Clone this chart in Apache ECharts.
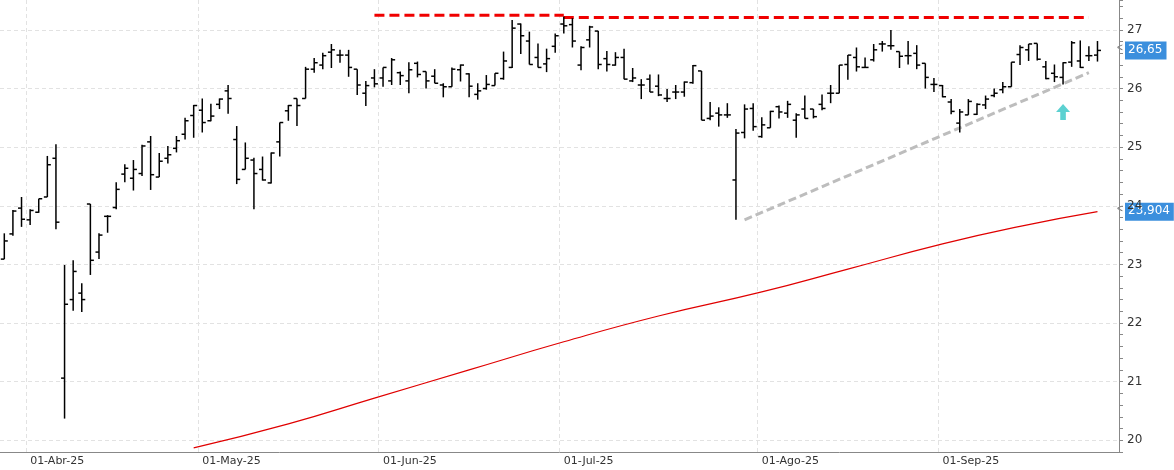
<!DOCTYPE html>
<html>
<head>
<meta charset="utf-8">
<script src="https://cdn.jsdelivr.net/npm/echarts@6/dist/echarts.min.js"></script>
<style>html,body{margin:0;padding:0;background:#fff}#main{width:1174px;height:470px}</style>
</head>
<body>
<div id="main"></div>
<script>
// barras OHLC (27-Mar-25 .. 25-Sep-25)
var abertura = [23.09,23.52,23.96,23.76,23.89,24.15,24.81,21.06,22.40,22.51,24.03,23.21,23.82,23.97,24.54,24.47,24.55,25.09,24.49,24.81,24.98,25.22,
25.54,25.63,25.45,25.73,25.96,25.13,24.62,24.78,24.62,24.39,25.09,25.62,25.83,25.83,26.33,26.40,26.62,26.57,26.57,26.33,25.92,26.18,26.18,26.13,26.27,26.13,26.43,26.29,26.21,
26.06,26.03,26.32,26.25,25.90,26.00,26.05,26.17,26.36,27.10,26.81,26.53,26.42,26.72,27.10,27.09,26.40,26.83,26.98,26.51,26.40,26.53,26.13,26.06,26.16,26.04,25.83,25.94,25.94,26.10,26.30,25.49,25.58,25.55,24.44,25.25,25.66,
25.18,25.33,25.69,25.58,25.46,25.65,25.65,25.73,25.92,25.92,26.41,26.53,26.36,26.49,26.76,26.73,26.63,26.56,26.60,26.43,26.07,26.05,25.77,25.41,25.55,25.56,25.72,25.88,25.98,26.03,26.58,26.66,26.77,26.37,26.26,26.19,26.45,26.47,26.56,26.57];
var maxima = [23.53,23.93,24.15,23.94,24.12,24.85,25.05,22.99,23.07,22.68,24.03,23.53,23.84,24.40,24.71,24.78,25.04,25.19,24.90,25.02,25.19,25.50,
25.72,25.83,25.74,25.83,26.06,25.36,25.08,24.82,24.84,24.91,25.42,25.72,25.83,26.37,26.52,26.61,26.76,26.66,26.66,26.33,26.13,26.33,26.36,26.52,26.29,26.45,26.46,26.29,26.33,
26.09,26.36,26.41,26.26,26.09,26.23,26.26,26.63,27.17,27.11,26.97,26.77,26.68,26.94,27.23,27.20,26.72,27.07,26.98,26.64,26.62,26.68,26.35,26.16,26.24,26.24,25.99,26.06,26.12,26.40,26.30,25.77,25.68,25.75,25.31,25.73,25.75,
25.51,25.62,25.71,25.79,25.58,25.88,25.65,25.90,26.06,26.40,26.57,26.70,26.53,26.76,26.81,27.00,26.63,26.81,26.74,26.43,26.18,26.06,25.82,25.65,25.82,25.75,25.88,26.00,26.11,26.45,26.74,26.76,26.77,26.47,26.41,26.45,26.81,26.82,26.72,26.81];
var minimas = [23.09,23.49,23.64,23.67,23.88,24.15,23.60,20.37,22.21,22.19,22.82,23.09,23.54,23.94,24.40,24.26,24.51,24.27,24.49,24.72,24.91,25.13,
25.16,25.25,25.44,25.65,25.57,24.37,24.62,23.94,24.43,24.38,24.84,25.45,25.36,25.83,26.27,26.33,26.35,26.44,26.20,25.89,25.70,26.02,26.03,26.06,26.06,25.92,26.19,26.00,26.09,
25.85,26.03,26.12,25.85,25.81,25.98,26.05,26.15,26.35,26.59,26.41,26.36,26.28,26.61,26.94,26.70,26.31,26.70,26.33,26.29,26.39,26.16,26.11,25.82,25.94,25.87,25.77,25.82,25.86,26.08,25.46,25.46,25.35,25.50,23.76,25.15,25.28,
25.16,25.33,25.49,25.50,25.16,25.49,25.49,25.63,25.75,25.92,26.15,26.29,26.35,26.46,26.63,26.66,26.35,26.41,26.33,26.00,25.94,25.85,25.56,25.25,25.55,25.55,25.65,25.85,25.92,26.03,26.40,26.47,26.48,26.16,26.11,26.07,26.37,26.35,26.47,26.46];
var fechamento = [23.40,23.91,23.77,23.92,24.12,24.70,23.72,22.32,22.88,22.40,23.07,23.50,23.82,24.28,24.64,24.62,25.02,24.53,24.76,24.87,25.11,25.45,
25.71,25.42,25.53,25.82,25.83,24.45,24.81,24.55,24.44,24.90,25.42,25.71,25.71,26.33,26.44,26.56,26.66,26.57,26.36,26.06,26.05,26.08,26.36,26.49,26.22,26.32,26.24,26.13,26.09,
26.03,26.33,26.40,26.04,25.96,26.07,26.26,26.47,27.03,26.90,26.41,26.36,26.51,26.90,27.07,26.81,26.70,27.05,26.41,26.41,26.53,26.16,26.18,26.06,25.94,25.89,25.83,25.94,26.11,26.39,25.46,25.53,25.55,25.55,25.24,25.65,25.35,
25.38,25.61,25.60,25.73,25.55,25.49,25.52,25.66,25.92,26.40,26.57,26.37,26.36,26.66,26.76,26.73,26.55,26.56,26.40,26.19,26.07,25.86,25.61,25.60,25.78,25.73,25.82,25.92,26.03,26.45,26.70,26.76,26.50,26.17,26.20,26.44,26.78,26.36,26.56,26.65];

// media movel (indice da barra, valor)
var media = [[22,19.87],[33,20.28],[43,20.72],[54,21.20],[65,21.68],[76,22.12],[88,22.53],[98,22.92],[109,23.35],[118,23.65],[127,23.90]];
// linhas desenhadas a mao
var resistencia1 = [[43,27.25],[65,27.25]];
var resistencia2 = [[65,27.21],[126,27.21]];
var tendencia = [[86,23.76],[126,26.27]];
var seta = [[123,25.60]];

var niveis = [20, 21, 22, 23, 24, 25, 26, 27];
var rotulosMes = {3:'01-Abr-25', 23:'01-May-25', 44:'01-Jun-25', 65:'01-Jul-25', 88:'01-Ago-25', 109:'01-Sep-25'};
var feriados = ['2025-04-18','2025-04-21','2025-05-01'];

// dias de pregao
var categorias = [];
var d = new Date(Date.UTC(2025, 2, 27));
while (categorias.length < abertura.length) {
	var s = d.toISOString().slice(0, 10);
	var dia = d.getUTCDay();
	if (dia != 0 && dia != 6 && feriados.indexOf(s) < 0) categorias.push(s);
	d.setUTCDate(d.getUTCDate() + 1);
}
categorias.push('', '');

var barras = abertura.map(function(o, i) { return [i, o, maxima[i], minimas[i], fechamento[i]]; });

function desenharBarra(params, api) {
	var x = api.value(0);
	var pO = api.coord([x, api.value(1)]);
	var pH = api.coord([x, api.value(2)]);
	var pL = api.coord([x, api.value(3)]);
	var pC = api.coord([x, api.value(4)]);
	var st = {stroke: '#000', lineWidth: 1.5};
	return {type: 'group', children: [
		{type: 'line', shape: {x1: pH[0], y1: pH[1], x2: pL[0], y2: pL[1]}, style: st},
		{type: 'line', shape: {x1: pO[0] - 3.5, y1: pO[1], x2: pO[0], y2: pO[1]}, style: st},
		{type: 'line', shape: {x1: pC[0], y1: pC[1], x2: pC[0] + 3.5, y2: pC[1]}, style: st}
	]};
}

function ehMes(i) { return rotulosMes[i] !== undefined; }

var myChart = echarts.init(document.getElementById('main'));
var option = {
	animation: false,
	grid: {left: 0, right: 55, top: 0, bottom: 18},
	xAxis: {
		type: 'category',
		data: categorias,
		boundaryGap: true,
		axisLine: {lineStyle: {color: '#888'}},
		axisTick: {alignWithLabel: true, interval: ehMes, length: 4, lineStyle: {color: '#888'}},
		axisLabel: {
			interval: ehMes,
			formatter: function(v, i) { return rotulosMes[i] || ''; },
			align: 'left', margin: 4, color: '#333', fontSize: 11, fontFamily: 'DejaVu Sans'
		},
		splitLine: {show: true, interval: ehMes, lineStyle: {color: '#e2e2e2', type: [4, 3]}}
	},
	yAxis: {
		type: 'value', position: 'right', min: 19.8, max: 27.51, interval: 0.2,
		axisLine: {show: true, lineStyle: {color: '#888'}},
		axisTick: {show: true, length: 4, lineStyle: {color: '#888'}},
		axisLabel: {color: '#333', fontSize: 12, fontFamily: 'DejaVu Sans', margin: 8,
			formatter: function(v) { return Math.abs(v - Math.round(v)) < 0.01 ? String(Math.round(v)) : ''; }},
		splitLine: {show: false}
	},
	series: [
		{type: 'line', data: [], z: 0,
			markLine: {silent: true, symbol: 'none', label: {show: false}, z: 0,
				lineStyle: {color: '#e2e2e2', type: [4, 3], width: 1},
				data: niveis.map(function(n) { return {yAxis: n}; })}},
		{type: 'line', data: media, symbol: 'none', smooth: true, lineStyle: {color: '#e00000', width: 1.2}, z: 2},
		{type: 'line', data: tendencia, symbol: 'none', lineStyle: {color: '#bdbdbd', width: 3, type: [8, 4]}, z: 2},
		{type: 'line', data: resistencia1, symbol: 'none', lineStyle: {color: '#f00000', width: 3, type: [10, 5]}, z: 3},
		{type: 'line', data: resistencia2, symbol: 'none', lineStyle: {color: '#f00000', width: 3, type: [10, 5]}, z: 3},
		{type: 'scatter', data: seta, symbol: 'path://M5,0 L10,6 L7,6 L7,12 L3,12 L3,6 L0,6 Z', symbolSize: [14, 16], itemStyle: {color: '#33c6c6'}, z: 4},
		{type: 'custom', data: barras, renderItem: desenharBarra, encode: {x: 0, y: [1, 2, 3, 4]}, z: 5}
	]
};
myChart.setOption(option);

// etiquetas de ultimo valor no eixo
function etiqueta(valor, texto) {
	var y = myChart.convertToPixel({yAxisIndex: 0}, valor);
	return {type: 'group', children: [
		{type: 'rect', shape: {x: 1125, y: y - 9, width: 5 + texto.length * 7.3, height: 18}, style: {fill: '#3b8fdd'}},
		{type: 'text', x: 1128, y: y - 7, style: {text: texto, fill: '#fff', fontSize: 12, fontFamily: 'DejaVu Sans'}},
		{type: 'text', x: 1117, y: y - 7, style: {text: '<', fill: '#666', fontSize: 10}}
	]};
}
myChart.setOption({graphic: [
	etiqueta(fechamento[fechamento.length - 1], '26,65'),
	etiqueta(media[media.length - 1][1], '23,904')
]});
</script>
</body>
</html>
